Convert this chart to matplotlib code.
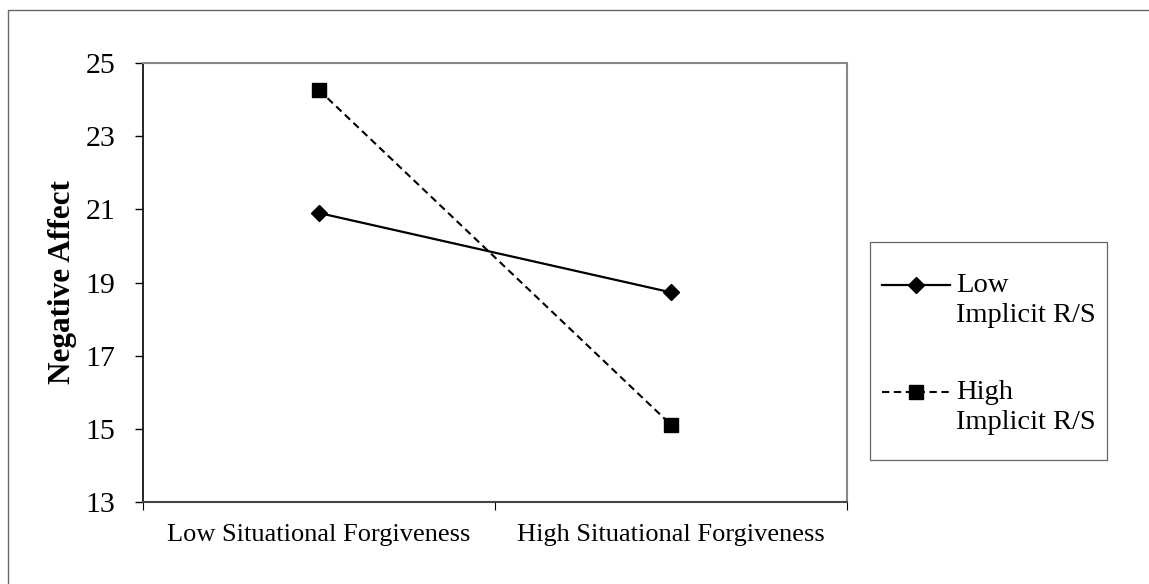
import matplotlib.pyplot as plt
from matplotlib.patches import Rectangle
from matplotlib.legend_handler import HandlerLine2D

categories = ['Low Situational Forgiveness', 'High Situational Forgiveness']
low_rs = [20.9, 18.73]
high_rs = [24.26, 15.11]
series_labels = ['Low\nImplicit R/S', 'High\nImplicit R/S']
yticks = [13, 15, 17, 19, 21, 23, 25]

plt.rcParams['font.family'] = ['Liberation Serif', 'DejaVu Serif']


class FirstLineHandler(HandlerLine2D):
    # put the legend key level with the first text line, not the middle
    def create_artists(self, legend, orig_handle, xdescent, ydescent,
                       width, height, fontsize, trans):
        arts = super().create_artists(legend, orig_handle, xdescent, ydescent,
                                      width, height, fontsize, trans)
        for a in arts:
            a.set_ydata([y + 11 for y in a.get_ydata()])
        return arts


W, H = 1149, 584
fig = plt.figure(figsize=(W / 100, H / 100), dpi=100)
ax = fig.add_axes([143 / W, 1 - 502 / H, 704 / W, 439 / H])

x = [0.5, 1.5]
l1, = ax.plot(x, low_rs, color='black', lw=1.6, marker='D', ms=7.8, label=series_labels[0])
l2, = ax.plot(x, high_rs, color='black', lw=1.5, ls=(0, (3.5, 2.2)), marker='s', ms=10,
              label=series_labels[1])

ax.set_xlim(0, 2)
ax.set_ylim(13, 25)
ax.set_yticks(yticks)
ax.set_yticklabels([str(v) for v in yticks], fontsize=21.5)
ax.set_xticks(x)
ax.set_xticklabels(categories, fontsize=19)
ax.tick_params(axis='x', length=0, pad=16)
ax.set_xticks([0, 1, 2], minor=True)
ax.tick_params(axis='x', which='minor', length=5.5, direction='out', width=0.8)
ax.tick_params(axis='y', length=6, direction='out', width=1, pad=14)
ax.set_ylabel('Negative Affect', fontsize=22.5, fontweight='bold', labelpad=6)

for s in ['top', 'right']:
    ax.spines[s].set_color('#888888')
    ax.spines[s].set_linewidth(1.5)
ax.spines['left'].set_linewidth(1.2)
ax.spines['bottom'].set_color('#444444')
ax.spines['bottom'].set_linewidth(1.5)

# legend without its own frame, box drawn separately
leg = ax.legend(loc='upper left', bbox_to_anchor=(882 / W, 1 - 273 / H),
                bbox_transform=fig.transFigure, fontsize=20.5, frameon=False,
                handlelength=2.4, handletextpad=0.2, labelspacing=1.85,
                borderpad=0, borderaxespad=0,
                handler_map={l1: FirstLineHandler(), l2: FirstLineHandler()})
for t in leg.get_texts():
    t.set_linespacing(1.25)

fig.patches.append(Rectangle((870 / W, 1 - 460 / H), 237 / W, 218 / H,
                             transform=fig.transFigure, fill=False,
                             edgecolor='#666666', lw=0.9))

# outer border of the chart area
fig.patches.append(Rectangle((8 / W, -0.1), 1.2, 1.1 - 10 / H,
                             transform=fig.transFigure, fill=False,
                             edgecolor='#666666', lw=1))

fig.savefig('out.png', dpi=100)
